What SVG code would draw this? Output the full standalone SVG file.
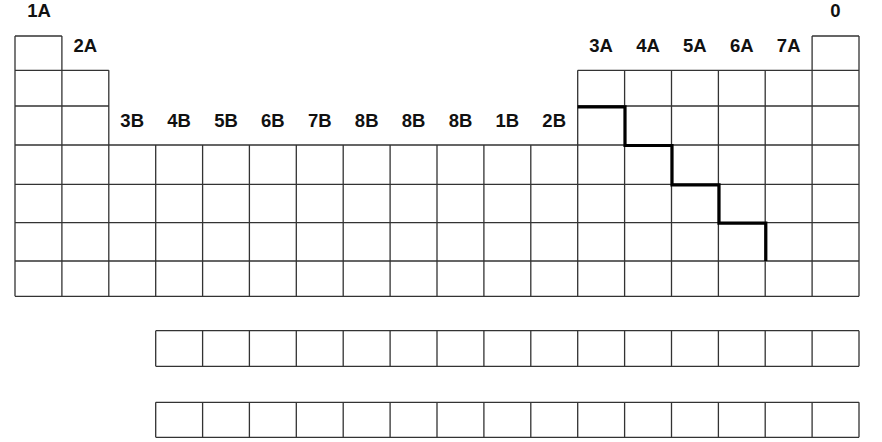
<svg xmlns="http://www.w3.org/2000/svg" width="882" height="442" viewBox="0 0 882 442">
<style>
.g{fill:none;stroke:#333;stroke-width:1.3}
.s{fill:none;stroke:#000;stroke-width:3.2;stroke-linejoin:miter}
.t{font-family:"Liberation Sans",Arial,sans-serif;font-weight:bold;font-size:18.5px;fill:#111;text-anchor:middle}
</style>
<rect width="882" height="442" fill="#fff"/>
<g id="main-table">
<path class="g" d="M15,36H61.9M812.1,36H859M15,70.3H108.8M577.7,70.3H859M15,106H108.8M577.7,106H859M15,145H859M15,184.3H859M15,222.7H859M15,261H859M15,296.3H859
M15,36V296.3M61.9,36V296.3M108.8,70.3V296.3M155.7,145V296.3M202.6,145V296.3M249.4,145V296.3M296.3,145V296.3M343.2,145V296.3M390.1,145V296.3M437,145V296.3M483.9,145V296.3M530.8,145V296.3M577.7,70.3V296.3M624.6,70.3V296.3M671.5,70.3V296.3M718.4,70.3V296.3M765.2,70.3V296.3M812.1,36V296.3M859,36V296.3"/>
</g>
<g id="lanthanides">
<path class="g" d="M155.7,330.7H859M155.7,366.3H859M155.7,330.7V366.3M202.6,330.7V366.3M249.4,330.7V366.3M296.3,330.7V366.3M343.2,330.7V366.3M390.1,330.7V366.3M437,330.7V366.3M483.9,330.7V366.3M530.8,330.7V366.3M577.7,330.7V366.3M624.6,330.7V366.3M671.5,330.7V366.3M718.4,330.7V366.3M765.2,330.7V366.3M812.1,330.7V366.3M859,330.7V366.3"/>
</g>
<g id="actinides">
<path class="g" d="M155.7,402.3H859M155.7,437.3H859M155.7,402.3V437.3M202.6,402.3V437.3M249.4,402.3V437.3M296.3,402.3V437.3M343.2,402.3V437.3M390.1,402.3V437.3M437,402.3V437.3M483.9,402.3V437.3M530.8,402.3V437.3M577.7,402.3V437.3M624.6,402.3V437.3M671.5,402.3V437.3M718.4,402.3V437.3M765.2,402.3V437.3M812.1,402.3V437.3M859,402.3V437.3"/>
</g>
<g id="staircase">
<path class="s" d="M577.7,106.8H625V145.5H672V184.8H719V223.2H765.8V261"/>
</g>
<g id="labels">
<text class="t" x="39" y="17">1A</text>
<text class="t" x="835.5" y="17">0</text>
<text class="t" x="85.3" y="52">2A</text>
<text class="t" x="601.1" y="52">3A</text>
<text class="t" x="648" y="52">4A</text>
<text class="t" x="694.9" y="52">5A</text>
<text class="t" x="741.8" y="52">6A</text>
<text class="t" x="788.7" y="52">7A</text>
<text class="t" x="132.2" y="127">3B</text>
<text class="t" x="179.1" y="127">4B</text>
<text class="t" x="226" y="127">5B</text>
<text class="t" x="272.9" y="127">6B</text>
<text class="t" x="319.8" y="127">7B</text>
<text class="t" x="366.7" y="127">8B</text>
<text class="t" x="413.6" y="127">8B</text>
<text class="t" x="460.5" y="127">8B</text>
<text class="t" x="507.3" y="127">1B</text>
<text class="t" x="554.2" y="127">2B</text>
</g>
</svg>
